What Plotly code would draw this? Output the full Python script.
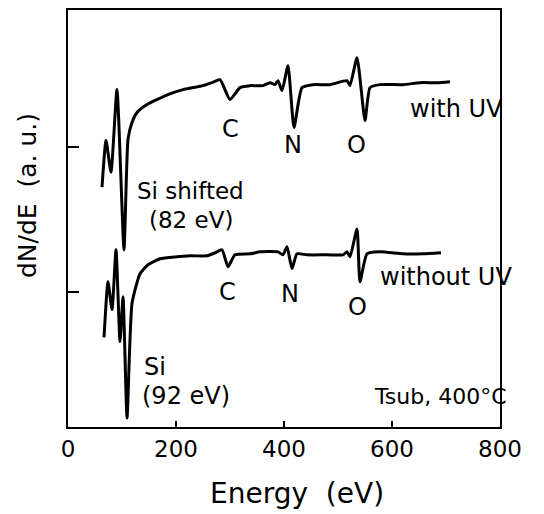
import plotly.graph_objects as go

# Energy (eV) and dN/dE (arbitrary units)
energy_with_uv = [63.0, 70.4, 79.6, 90.7, 103.7, 111.1, 118.5, 127.8, 146.3, 185.2, 213.0,
                  250.0, 266.7, 281.5, 300.0, 318.5, 337.0, 361.1, 374.1, 383.3, 388.9,
                  396.3, 407.4, 418.5, 433.3, 453.7, 485.2, 516.7, 522.2, 535.2, 550.0,
                  559.3, 577.8, 620.4, 651.9, 683.3, 707.4]
dnde_with_uv = [241, 288, 256, 339, 178, 289, 306, 316, 324, 334, 339,
                343, 346, 349, 329, 341, 343, 343, 346, 344, 348,
                338, 363, 301, 341, 344, 344, 348, 343, 371, 308,
                341, 344, 344, 346, 346, 347]

energy_without_uv = [66.7, 74.1, 81.5, 88.9, 96.3, 101.9, 109.3, 118.5, 133.3, 148.1, 170.4,
                     225.9, 257.4, 272.2, 285.2, 296.3, 309.3, 337.0, 355.6, 388.9, 398.1,
                     405.6, 414.8, 424.1, 442.6, 479.6, 509.3, 516.7, 522.2, 535.2, 540.7,
                     553.7, 577.8, 620.4, 657.4, 690.7]
dnde_without_uv = [90, 146, 118, 178, 86, 131, 9, 124, 154, 163, 169,
                   172, 172, 175, 178, 161, 173, 174, 176, 176, 173,
                   181, 159, 174, 173, 173, 173, 176, 171, 199, 146,
                   174, 176, 174, 174, 175]

x_ticks = [0, 200, 400, 600, 800]
x_tick_labels = ["0", "200", "400", "600", "800"]
y_ticks = [136, 281]

FONT = "DejaVu Sans"

fig = go.Figure()
for xs, ys in [(energy_with_uv, dnde_with_uv), (energy_without_uv, dnde_without_uv)]:
    fig.add_trace(go.Scatter(x=xs, y=ys, mode="lines",
                             line=dict(color="black", width=3, shape="spline", smoothing=0.5),
                             showlegend=False, hoverinfo="skip"))

labels = [
    ("C", 300, 299, "center", 24), ("N", 416.7, 283, "center", 24), ("O", 535, 283, "center", 24),
    ("with UV", 630, 320, "left", 24),
    ("Si shifted", 124, 237, "left", 23), ("(82 eV)", 146, 208, "left", 23),
    ("C", 296, 136, "center", 24), ("N", 411, 134, "center", 24), ("O", 537, 121, "center", 24),
    ("without UV", 574, 151, "left", 24),
    ("Si", 137, 60, "left", 24), ("(92 eV)", 133, 31, "left", 24),
    ("Tsub, 400°C", 563, 31, "left", 22),
]
for text, x, y, anchor, size in labels:
    fig.add_annotation(x=x, y=y, xref="x", yref="y", text=text, showarrow=False,
                       xanchor=anchor, yanchor="middle",
                       font=dict(family=FONT, size=size, color="black"))

fig.add_annotation(x=(27 - 68) / 432, y=(426 - 194) / 419, xref="paper", yref="paper",
                   text="dN/dE  (a. u.)", textangle=-90, showarrow=False,
                   xanchor="center", yanchor="middle",
                   font=dict(family=FONT, size=25, color="black"))

fig.add_annotation(x=(297 - 68) / 432, y=(426 - 493) / 419, xref="paper", yref="paper",
                   text="Energy  (eV)", showarrow=False,
                   xanchor="center", yanchor="middle",
                   font=dict(family=FONT, size=28, color="black"))

fig.update_xaxes(range=[0, 800], tickvals=x_ticks, ticktext=x_tick_labels,
                 ticks="inside", ticklen=6, tickwidth=2, tickcolor="black",
                 showline=True, linecolor="black", linewidth=2, mirror=True,
                 showgrid=False, zeroline=False,
                 tickfont=dict(family=FONT, size=23, color="black"))
fig.update_yaxes(range=[0, 419], tickvals=y_ticks, showticklabels=False,
                 ticks="inside", ticklen=11, tickwidth=2, tickcolor="black",
                 showline=True, linecolor="black", linewidth=2, mirror=True,
                 showgrid=False, zeroline=False)

# page body adds an 8px offset, so the figure is sized to fit the remaining window
fig.update_layout(width=536, height=506, margin=dict(l=60, r=44, t=0, b=87),
                  paper_bgcolor="white", plot_bgcolor="white")

fig.write_html("out.html")
